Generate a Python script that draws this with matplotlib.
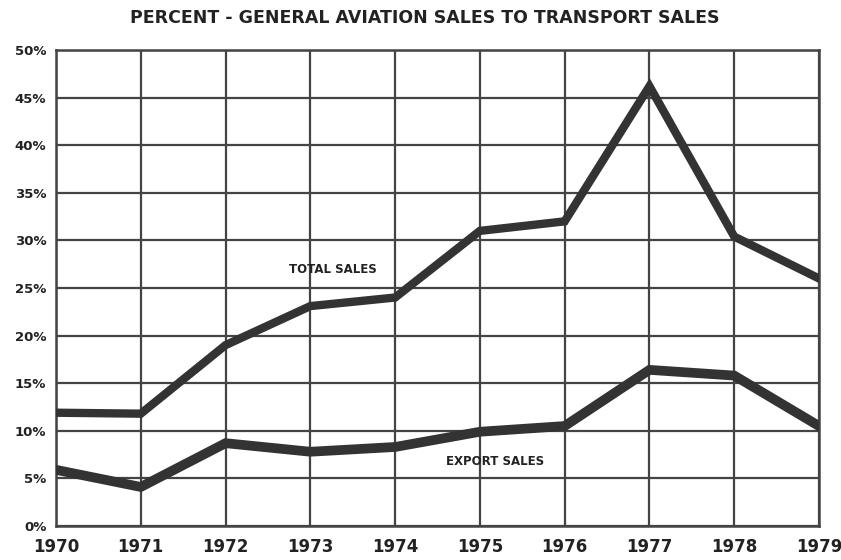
import matplotlib
matplotlib.use("Agg")
import matplotlib.pyplot as plt

years = [1970, 1971, 1972, 1973, 1974, 1975, 1976, 1977, 1978, 1979]
total_sales = [11.9, 11.8, 19.0, 23.1, 24.0, 31.0, 32.0, 46.2, 30.4, 26.0]
export_sales = [5.9, 4.1, 8.7, 7.8, 8.3, 9.9, 10.5, 16.4, 15.8, 10.5]
y_ticks = [0, 5, 10, 15, 20, 25, 30, 35, 40, 45, 50]

plt.rcParams['font.family'] = ['DejaVu Sans']

fig = plt.figure(figsize=(8.41, 5.6), dpi=100)
ax = fig.add_axes([56/841, 34/560, 763/841, 476/560])

ax.plot(years, total_sales, color='#333333', lw=6, solid_joinstyle='miter', zorder=3)
ax.plot(years, export_sales, color='#333333', lw=7, solid_joinstyle='miter', zorder=3)

ax.set_xlim(1970, 1979)
ax.set_ylim(0, 50)
ax.set_xticks(years)
ax.set_xticklabels([str(y) for y in years], fontsize=12, fontweight='bold', color='#222222')
ax.set_yticks(y_ticks)
ax.set_yticklabels([f"{v}%" for v in y_ticks], fontsize=9.5, fontweight='bold', color='#222222')
ax.tick_params(length=0, pad=7)
ax.tick_params(axis='x', pad=9)
ax.grid(True, color='#444444', lw=1.6)
ax.set_axisbelow(True)
for s in ax.spines.values():
    s.set_color('#444444')
    s.set_linewidth(1.8)

ax.text(1973.26, 26.9, "TOTAL SALES", fontsize=8.5, fontweight='bold', ha='center', va='center', color='#222222')
ax.text(1975.18, 6.8, "EXPORT SALES", fontsize=8.5, fontweight='bold', ha='center', va='center', color='#222222')

fig.text(425/841, 1 - 18/560, "PERCENT - GENERAL AVIATION SALES TO TRANSPORT SALES",
         fontsize=12.5, fontweight='bold', ha='center', va='center', color='#222222')

fig.savefig("out.png", dpi=100)
